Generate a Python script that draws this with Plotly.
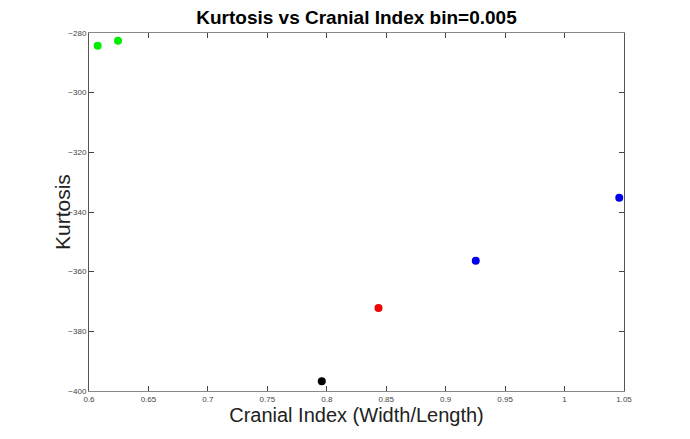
import plotly.graph_objects as go

cranial_index = [0.6073, 0.6244, 0.7958, 0.8435, 0.9253, 1.046]
kurtosis = [-284.3, -282.6, -396.7, -372.2, -356.3, -335.2]
colors = ["#00ee00", "#00ee00", "#000000", "#ee0000", "#0000ee", "#0000ee"]

x_ticks = [0.6, 0.65, 0.7, 0.75, 0.8, 0.85, 0.9, 0.95, 1, 1.05]
x_ticktext = ["0.6", "0.65", "0.7", "0.75", "0.8", "0.85", "0.9", "0.95", "1", "1.05"]
y_ticks = [-400, -380, -360, -340, -320, -300, -280]

fig = go.Figure()
fig.add_trace(go.Scatter(
    x=cranial_index, y=kurtosis, mode="markers",
    marker=dict(color=colors, size=8, symbol="circle", line=dict(width=0)),
    showlegend=False,
))

font = "Liberation Sans, Arial, sans-serif"
L, R, T, B = 81, 74, 25, 56
W = 690 - L - R
fig.update_layout(
    width=690, height=439,
    margin=dict(l=L, r=R, t=T, b=B),
    paper_bgcolor="white", plot_bgcolor="white",
    title=dict(text="<b>Kurtosis vs Cranial Index bin=0.005</b>",
               x=(L + 690 - R) / 2 / 690, xanchor="center", y=1 - 9 / 439, yanchor="middle",
               font=dict(family=font, size=19, color="black")),
    xaxis=dict(
        range=[0.6, 1.05], tickvals=x_ticks, ticktext=x_ticktext,
        ticks="inside", ticklen=5, tickcolor="#444", showgrid=False, zeroline=False,
        showline=True, linecolor="#888", linewidth=1, mirror="ticks",
        tickfont=dict(family=font, size=8, color="#444"),
        title=dict(text="Cranial Index (Width/Length)", standoff=2,
                   font=dict(family=font, size=20, color="#222")),
    ),
    yaxis=dict(
        range=[-400, -280], tickvals=y_ticks,
        ticks="inside", ticklen=5, tickcolor="#444", showgrid=False, zeroline=False,
        showline=True, linecolor="#555", linewidth=1, mirror="ticks",
        tickfont=dict(family=font, size=8, color="#444"),
    ),
    annotations=[dict(
        text="Kurtosis", textangle=-90, showarrow=False,
        xref="paper", yref="paper", x=(54 - L) / W, y=0.5,
        xanchor="center", yanchor="middle",
        font=dict(family=font, size=21, color="#222"),
    )],
)

fig.write_html("out.html")
